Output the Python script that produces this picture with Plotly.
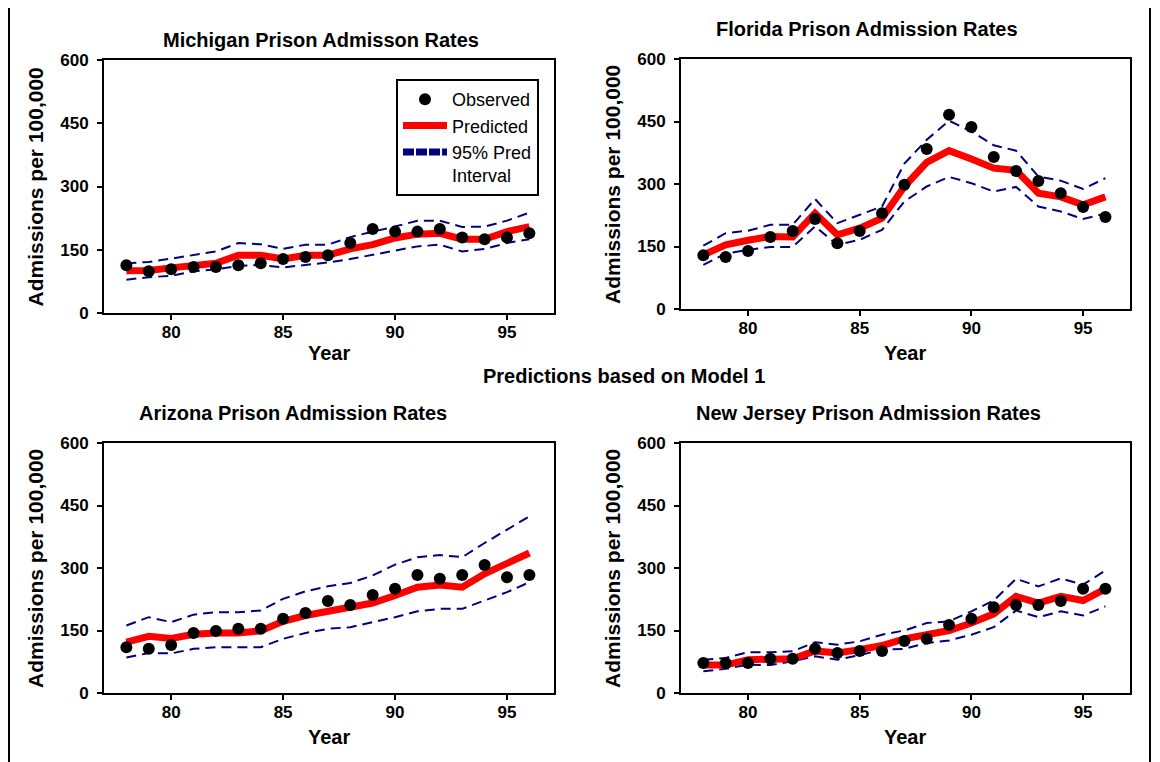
import plotly.graph_objects as go

W, H = 1160, 762
OFF = 8  # page body offset of the rendered figure

years = [78, 79, 80, 81, 82, 83, 84, 85, 86, 87, 88, 89, 90, 91, 92, 93, 94, 95, 96]
x_ticks = [80, 85, 90, 95]
y_ticks = [0, 150, 300, 450, 600]

# Michigan
mi_obs = [113, 99, 104, 109, 109, 113, 118, 128, 133, 137, 166, 199, 193, 193, 199, 179, 175, 179, 189]
mi_pred = [100, 101, 107, 111, 118, 137, 137, 128, 137, 137, 152, 162, 178, 187, 189, 175, 175, 193, 205]
mi_up = [118, 121, 129, 138, 146, 166, 163, 152, 162, 162, 180, 193, 205, 219, 219, 204, 205, 219, 238]
mi_lo = [79, 85, 88, 99, 103, 112, 114, 108, 114, 120, 128, 138, 148, 158, 162, 146, 152, 166, 175]

# Florida
fl_obs = [129, 125, 139, 173, 187, 216, 158, 187, 230, 298, 384, 466, 437, 365, 331, 307, 278, 245, 221]
fl_pred = [130, 154, 165, 174, 173, 230, 178, 194, 218, 294, 352, 380, 360, 338, 333, 278, 269, 250, 269]
fl_up = [152, 182, 188, 202, 202, 264, 206, 226, 246, 349, 406, 452, 426, 393, 380, 318, 308, 288, 314]
fl_lo = [106, 133, 142, 149, 149, 198, 154, 166, 190, 258, 294, 317, 302, 282, 293, 246, 234, 216, 229]

# Arizona
az_obs = [110, 106, 115, 144, 149, 154, 154, 178, 192, 221, 211, 235, 250, 283, 274, 283, 307, 278, 283]
az_pred = [122, 136, 131, 141, 144, 144, 149, 172, 186, 196, 202, 216, 234, 254, 259, 254, 286, 310, 336]
az_up = [162, 182, 170, 188, 194, 194, 198, 226, 244, 256, 264, 282, 308, 326, 331, 326, 360, 392, 424]
az_lo = [85, 96, 95, 106, 110, 110, 110, 130, 144, 154, 158, 170, 182, 196, 202, 202, 222, 242, 266]

# New Jersey
nj_obs = [72, 72, 72, 82, 82, 106, 96, 101, 101, 125, 130, 163, 178, 206, 211, 211, 221, 250, 250]
nj_pred = [67, 67, 80, 80, 82, 101, 96, 104, 114, 130, 140, 150, 168, 190, 232, 216, 232, 222, 250]
nj_up = [80, 84, 98, 98, 100, 122, 116, 124, 140, 150, 168, 172, 196, 222, 274, 256, 275, 260, 294]
nj_lo = [52, 58, 68, 67, 76, 88, 80, 91, 104, 106, 120, 126, 140, 158, 198, 182, 196, 186, 208]

titles = ["Michigan Prison Admisson Rates", "Florida Prison Admission Rates",
          "Arizona Prison Admission Rates", "New Jersey Prison Admission Rates"]
main_note = "Predictions based on Model 1"
y_title = "Admissions per 100,000"
x_title = "Year"

RED = "#ff0000"
NAVY = "#000080"
FONT = "Liberation Sans, Arial, sans-serif"


def px(x):
    return (x - OFF) / W


def py(y):
    return 1 - (y - OFF) / H


# panel boxes in screen pixels: left, right, top, bottom
boxes = [(104, 554, 60, 313), (681, 1130, 59, 309), (104, 554, 443, 693), (681, 1130, 443, 693)]
year_label_y = [353, 353, 737, 737]
data = [(mi_obs, mi_pred, mi_up, mi_lo), (fl_obs, fl_pred, fl_up, fl_lo),
        (az_obs, az_pred, az_up, az_lo), (nj_obs, nj_pred, nj_up, nj_lo)]

fig = go.Figure()

for i, ((obs, pred, up, lo), box) in enumerate(zip(data, boxes)):
    xa = "x" if i == 0 else f"x{i+1}"
    ya = "y" if i == 0 else f"y{i+1}"
    for band in (up, lo):
        fig.add_trace(go.Scatter(x=years, y=band, mode="lines", xaxis=xa, yaxis=ya,
                                 line=dict(color=NAVY, width=2, dash="10px,6px"),
                                 showlegend=False, hoverinfo="skip"))
    fig.add_trace(go.Scatter(x=years, y=pred, mode="lines", xaxis=xa, yaxis=ya,
                             name="Predicted", line=dict(color=RED, width=7),
                             showlegend=(i == 0), legendrank=2))
    fig.add_trace(go.Scatter(x=years, y=obs, mode="markers", xaxis=xa, yaxis=ya,
                             name="Observed", marker=dict(color="black", size=12),
                             showlegend=(i == 0), legendrank=1))

# legend-only entry for the interval (thick dashed symbol)
fig.add_trace(go.Scatter(x=[None], y=[None], mode="lines", xaxis="x", yaxis="y",
                         name="95% Pred<br>Interval",
                         line=dict(color=NAVY, width=7, dash="11px,2px"),
                         showlegend=True, legendrank=3))

axis_common = dict(showgrid=False, zeroline=False, showline=True, linecolor="black",
                   linewidth=2, mirror=True, ticks="outside", ticklen=5, tickwidth=2,
                   tickcolor="black", automargin=False,
                   tickfont=dict(family=FONT, size=17, color="black", weight="bold"))

layout = dict(width=W, height=H, margin=dict(l=0, r=0, t=0, b=0, autoexpand=False),
              paper_bgcolor="white", plot_bgcolor="white",
              font=dict(family=FONT, color="black"),
              showlegend=True,
              legend=dict(x=px(396), y=py(79), xanchor="left", yanchor="top",
                          bgcolor="white", bordercolor="black", borderwidth=2,
                          font=dict(family=FONT, size=18, color="black"),
                          itemwidth=44, valign="top", traceorder="normal",
                          tracegroupgap=0))

annotations = []
shapes = []
for i, (l, r, t, b) in enumerate(boxes):
    sx = "" if i == 0 else str(i + 1)
    layout[f"xaxis{sx}"] = dict(axis_common, domain=[px(l), px(r)], range=[77, 97.1],
                               tickvals=x_ticks, anchor=f"y{sx}", ticklabelstandoff=-2)
    layout[f"yaxis{sx}"] = dict(axis_common, domain=[py(b), py(t)], range=[0, 600],
                               tickvals=y_ticks, anchor=f"x{sx}", ticklabelstandoff=5)
    # y-axis title
    annotations.append(dict(text=y_title, x=px(l - 69), y=py((t + b) / 2 + 1), xref="paper",
                            yref="paper", showarrow=False, textangle=-90,
                            xanchor="center", yanchor="middle",
                            font=dict(family=FONT, size=21, weight="bold")))
    # x-axis title
    annotations.append(dict(text=x_title, x=px((l + r) / 2), y=py(year_label_y[i]),
                            xref="paper", yref="paper", showarrow=False, xanchor="center",
                            yanchor="middle",
                            font=dict(family=FONT, size=20, weight="bold")))

title_pos = [(321, 40), (867, 29), (293, 413), (868, 413)]
for txt, (x, y) in zip(titles, title_pos):
    annotations.append(dict(text=txt, x=px(x), y=py(y), xref="paper", yref="paper",
                            showarrow=False, xanchor="center", yanchor="middle",
                            font=dict(family=FONT, size=20, weight="bold")))
annotations.append(dict(text=main_note, x=px(624), y=py(376), xref="paper", yref="paper",
                        showarrow=False, xanchor="center", yanchor="middle",
                        font=dict(family=FONT, size=20, weight="bold")))

for xv in (9, 1150):
    shapes.append(dict(type="line", xref="paper", yref="paper", x0=px(xv), x1=px(xv),
                       y0=-0.05, y1=1.05, line=dict(color="black", width=2)))

layout["annotations"] = annotations
layout["shapes"] = shapes
fig.update_layout(**layout)

fig.write_html("out.html")
